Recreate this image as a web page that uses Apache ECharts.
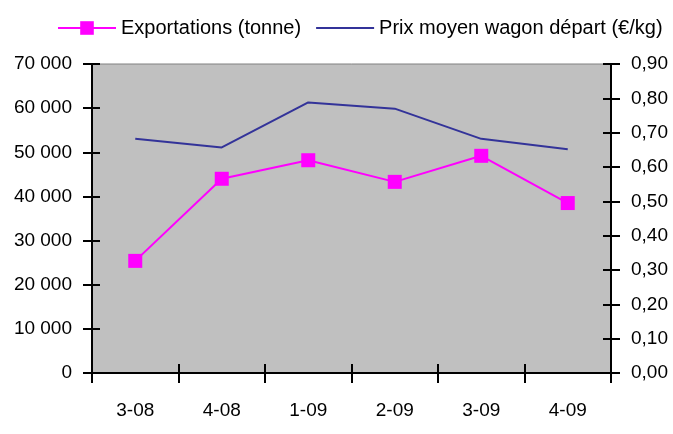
<!DOCTYPE html>
<html>
<head>
<meta charset="utf-8">
<script src="https://cdn.jsdelivr.net/npm/echarts@6/dist/echarts.min.js"></script>
<style>
  html, body { margin: 0; padding: 0; background: #fff; }
  #chart { width: 673px; height: 434px; }
</style>
</head>
<body>
<div id="chart"></div>
<script>
const categories = ['3-08', '4-08', '1-09', '2-09', '3-09', '4-09'];
const exportations = [25400, 44000, 48200, 43300, 49200, 38500];
const prixMoyen = [0.682, 0.657, 0.788, 0.770, 0.682, 0.652];
const leftTicks = [0, 10000, 20000, 30000, 40000, 50000, 60000, 70000];
const rightTicks = [0, 0.1, 0.2, 0.3, 0.4, 0.5, 0.6, 0.7, 0.8, 0.9];

const font = '"Liberation Sans", Arial, sans-serif';
const axisLine = { show: true, lineStyle: { color: '#000', width: 2 } };
const tickStyle = { color: '#000', width: 2 };
const gridRect = { left: 92, right: 62, top: 64, bottom: 61 };

const fmtLeft = v => v === 0 ? '0' : String(v).replace(/\B(?=(\d{3})+(?!\d))/g, ' ');
const fmtRight = v => v.toFixed(2).replace('.', ',');

// outer ticks + labels on grid 0, inner ticks on grid 1 -> ticks cross the axis line
function yAxis(grid, side, max, interval, fmt) {
  const inner = grid === 1;
  return {
    gridIndex: grid, type: 'value', position: side,
    min: 0, max: max, interval: interval,
    splitLine: { show: false }, axisLine: axisLine,
    axisTick: { show: true, inside: inner, length: inner ? 8 : 9, lineStyle: tickStyle },
    axisLabel: inner ? { show: false }
      : { color: '#000', fontFamily: font, fontSize: 19, margin: 20, formatter: fmt }
  };
}

function xAxis(grid) {
  const inner = grid === 1;
  return {
    gridIndex: grid, type: 'category', data: categories, position: 'bottom',
    axisLine: axisLine,
    axisTick: { show: true, inside: inner, length: inner ? 9 : 10, lineStyle: tickStyle },
    axisLabel: inner ? { show: false }
      : { color: '#000', fontFamily: font, fontSize: 19, margin: 28 }
  };
}

const leftMax = leftTicks[leftTicks.length - 1];
const rightMax = rightTicks[rightTicks.length - 1];

const chart = echarts.init(document.getElementById('chart'));
chart.setOption({
  animation: false,
  backgroundColor: '#fff',
  grid: [
    Object.assign({ show: true, backgroundColor: '#c0c0c0', borderColor: '#808080', borderWidth: 1 }, gridRect),
    Object.assign({ show: false }, gridRect)
  ],
  legend: {
    left: 52, top: 13, width: 660,
    itemWidth: 58, itemHeight: 17, itemGap: 14,
    textStyle: { color: '#000', fontFamily: font, fontSize: 20 },
    data: [
      { name: 'Exportations (tonne)' },
      { name: 'Prix moyen wagon départ (€/kg)', itemStyle: { opacity: 0 } }
    ]
  },
  xAxis: [xAxis(0), xAxis(1)],
  yAxis: [
    yAxis(0, 'left', leftMax, 10000, fmtLeft),
    yAxis(0, 'right', rightMax, 0.1, fmtRight),
    yAxis(1, 'left', leftMax, 10000, fmtLeft),
    yAxis(1, 'right', rightMax, 0.1, fmtRight)
  ],
  series: [
    {
      name: 'Exportations (tonne)', type: 'line', data: exportations,
      xAxisIndex: 0, yAxisIndex: 0,
      symbol: 'rect', symbolSize: 14,
      itemStyle: { color: '#ff00ff' },
      lineStyle: { color: '#ff00ff', width: 2 }
    },
    {
      name: 'Prix moyen wagon départ (€/kg)', type: 'line', data: prixMoyen,
      xAxisIndex: 0, yAxisIndex: 1,
      symbol: 'none',
      itemStyle: { color: '#333399' },
      lineStyle: { color: '#333399', width: 2 }
    }
  ]
});
</script>
</body>
</html>
